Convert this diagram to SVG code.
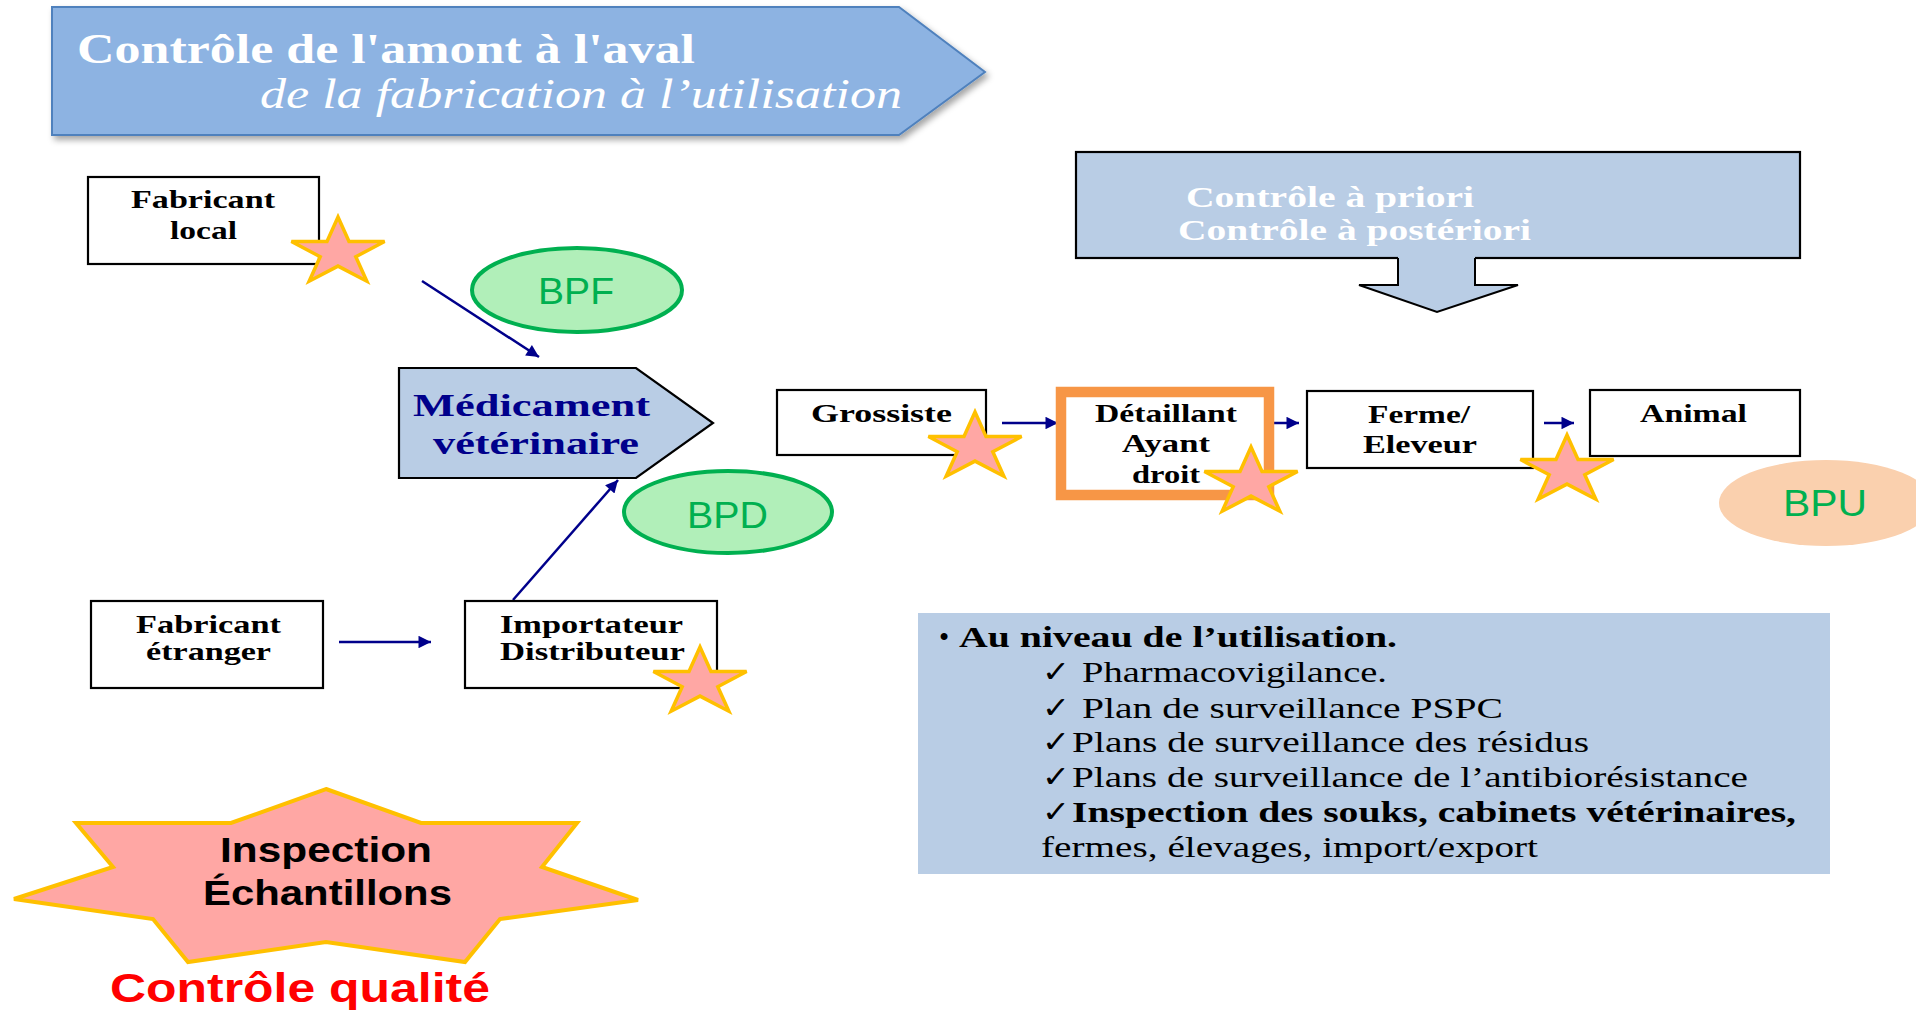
<svg xmlns="http://www.w3.org/2000/svg" width="1916" height="1012" viewBox="0 0 1916 1012">
<style>
.serif{font-family:"Liberation Serif","Times New Roman",serif}
.b{font-weight:bold}
.box{fill:#ffffff;stroke:#000000;stroke-width:2.2}
.lbl{font-family:"Liberation Serif","Times New Roman",serif;font-weight:bold;font-size:26px;fill:#000000}
.bp{font-family:"Liberation Sans",Arial,sans-serif;font-size:36px;fill:#00B050}
.ell{fill:#B1EFB9;stroke:#00B050;stroke-width:4}
.star{fill:#FFA7A4;stroke:#FFC000;stroke-width:3.5}
.conn{stroke:#00008B;stroke-width:2.5;fill:none;marker-end:url(#ah)}
.list{font-family:"Liberation Serif","Times New Roman",serif;font-size:29px;fill:#000000}
.chk{font-family:"DejaVu Sans",sans-serif;font-size:30px;fill:#000000}
.white{fill:#ffffff}
.sans{font-family:"Liberation Sans",Arial,sans-serif;font-weight:bold}
</style>
<defs>
<marker id="ah" viewBox="0 0 10 10" refX="10" refY="5" markerWidth="6.5" markerHeight="5" orient="auto" markerUnits="strokeWidth">
<path d="M0,0 L10,5 L0,10 z" fill="#00008B"/>
</marker>
<path id="star5" d="M0,-35.5 L11,-11 L46.6,-11 L17.8,4.2 L28.8,28.7 L0,13.6 L-28.8,28.7 L-17.8,4.2 L-46.6,-11 L-11,-11 Z"/>
<filter id="sh" x="-5%" y="-10%" width="115%" height="130%">
<feDropShadow dx="3" dy="4" stdDeviation="3" flood-color="#000000" flood-opacity="0.35"/>
</filter>
</defs>
<rect x="0" y="0" width="1916" height="1012" fill="#ffffff"/>

<g id="banner">
<path d="M52,7 L899,7 L985,72 L899,135 L52,135 Z" fill="#8DB3E2" stroke="#4F81BD" stroke-width="2" filter="url(#sh)"/>
<text class="serif b white" x="77" y="63" font-size="42" textLength="618" lengthAdjust="spacingAndGlyphs">Contrôle de l'amont à l'aval</text>
<text class="serif white" x="260" y="108" font-size="42" font-style="italic" textLength="642" lengthAdjust="spacingAndGlyphs">de la fabrication à l’utilisation</text>
</g>

<g id="connectors">
<line class="conn" x1="422" y1="281" x2="539" y2="357"/>
<line class="conn" x1="513" y1="600" x2="618" y2="480"/>
<line class="conn" x1="339" y1="642" x2="431" y2="642"/>
<line class="conn" x1="1002" y1="423" x2="1058" y2="423"/>
<line class="conn" x1="1270" y1="423" x2="1299" y2="423"/>
<line class="conn" x1="1544" y1="423" x2="1574" y2="423"/>
</g>

<g id="fabricant-local">
<rect class="box" x="88" y="177" width="231" height="87"/>
<text class="lbl" x="131" y="208" textLength="144" lengthAdjust="spacingAndGlyphs">Fabricant</text>
<text class="lbl" x="170" y="239" textLength="67" lengthAdjust="spacingAndGlyphs">local</text>
<use href="#star5" class="star" x="338" y="252.5"/>
</g>

<g id="bpf">
<ellipse class="ell" cx="577" cy="290" rx="105" ry="42"/>
<text class="bp" x="538" y="304" textLength="76" lengthAdjust="spacingAndGlyphs">BPF</text>
</g>

<g id="medicament">
<path d="M399,368 L636,368 L713,423 L636,478 L399,478 Z" fill="#B9CDE5" stroke="#000000" stroke-width="2.2"/>
<text class="serif b" x="413" y="416" font-size="31" fill="#00008B" textLength="237" lengthAdjust="spacingAndGlyphs">Médicament</text>
<text class="serif b" x="433" y="454" font-size="31" fill="#00008B" textLength="206" lengthAdjust="spacingAndGlyphs">vétérinaire</text>
</g>

<g id="bpd">
<ellipse class="ell" cx="728" cy="512" rx="104" ry="41"/>
<text class="bp" x="687" y="528" textLength="81" lengthAdjust="spacingAndGlyphs">BPD</text>
</g>

<g id="fabricant-etranger">
<rect class="box" x="91" y="601" width="232" height="87"/>
<text class="lbl" x="136" y="633" textLength="145" lengthAdjust="spacingAndGlyphs">Fabricant</text>
<text class="lbl" x="146" y="660" textLength="125" lengthAdjust="spacingAndGlyphs">étranger</text>
</g>

<g id="importateur">
<rect class="box" x="465" y="601" width="252" height="87"/>
<text class="lbl" x="500" y="633" textLength="183" lengthAdjust="spacingAndGlyphs">Importateur</text>
<text class="lbl" x="500" y="660" textLength="185" lengthAdjust="spacingAndGlyphs">Distributeur</text>
<use href="#star5" class="star" x="700" y="682.5"/>
</g>

<g id="grossiste">
<rect class="box" x="777" y="390" width="209" height="65"/>
<text class="lbl" x="811" y="422" textLength="141" lengthAdjust="spacingAndGlyphs">Grossiste</text>
<use href="#star5" class="star" x="975" y="447.5"/>
</g>

<g id="detaillant">
<rect x="1061" y="392" width="208" height="103" fill="#ffffff" stroke="#F79646" stroke-width="10.5"/>
<text class="lbl" x="1095" y="422" textLength="142" lengthAdjust="spacingAndGlyphs">Détaillant</text>
<text class="lbl" x="1122" y="452" textLength="88" lengthAdjust="spacingAndGlyphs">Ayant</text>
<text class="lbl" x="1132" y="483" textLength="68" lengthAdjust="spacingAndGlyphs">droit</text>
<use href="#star5" class="star" x="1251" y="482.5"/>
</g>

<g id="ferme">
<rect class="box" x="1307" y="391" width="226" height="77"/>
<text class="lbl" x="1368" y="423" textLength="102" lengthAdjust="spacingAndGlyphs">Ferme/</text>
<text class="lbl" x="1363" y="453" textLength="114" lengthAdjust="spacingAndGlyphs">Eleveur</text>
</g>

<g id="animal">
<rect class="box" x="1590" y="390" width="210" height="66"/>
<text class="lbl" x="1640" y="422" textLength="107" lengthAdjust="spacingAndGlyphs">Animal</text>
</g>

<g id="ferme-star">
<use href="#star5" class="star" x="1567" y="470.5"/>
</g>

<g id="bpu">
<ellipse cx="1826" cy="503" rx="107" ry="43" fill="#FAD0AE"/>
<text class="bp" x="1783" y="516" textLength="84" lengthAdjust="spacingAndGlyphs">BPU</text>
</g>

<g id="controle-priori">
<rect x="1076" y="152" width="724" height="106" fill="#B9CDE5" stroke="#000000" stroke-width="2.2"/>
<path d="M1398,256 L1398,285 L1359,285 L1437,312 L1518,285 L1475,285 L1475,256 Z" fill="#B9CDE5"/>
<path d="M1398,258 L1398,285 L1359,285 L1437,312 L1518,285 L1475,285 L1475,258" fill="none" stroke="#000000" stroke-width="2"/>
<text class="serif b white" x="1186" y="207" font-size="30" textLength="288" lengthAdjust="spacingAndGlyphs">Contrôle à priori</text>
<text class="serif b white" x="1178" y="240" font-size="30" textLength="353" lengthAdjust="spacingAndGlyphs">Contrôle à postériori</text>
</g>

<g id="utilisation">
<rect x="918" y="613" width="912" height="261" fill="#B9CDE5"/>
<text class="list" x="939" y="647">•</text>
<text class="list b" x="959" y="647" textLength="438" lengthAdjust="spacingAndGlyphs">Au niveau de l’utilisation.</text>
<text class="chk" x="1042" y="682" textLength="28" lengthAdjust="spacingAndGlyphs">✓</text>
<text class="list" x="1082" y="682" textLength="305" lengthAdjust="spacingAndGlyphs">Pharmacovigilance.</text>
<text class="chk" x="1042" y="718" textLength="28" lengthAdjust="spacingAndGlyphs">✓</text>
<text class="list" x="1082" y="718" textLength="421" lengthAdjust="spacingAndGlyphs">Plan de surveillance PSPC</text>
<text class="chk" x="1042" y="752" textLength="28" lengthAdjust="spacingAndGlyphs">✓</text>
<text class="list" x="1072" y="752" textLength="517" lengthAdjust="spacingAndGlyphs">Plans de surveillance des résidus</text>
<text class="chk" x="1042" y="787" textLength="28" lengthAdjust="spacingAndGlyphs">✓</text>
<text class="list" x="1072" y="787" textLength="676" lengthAdjust="spacingAndGlyphs">Plans de surveillance de l’antibiorésistance</text>
<text class="chk" x="1042" y="822" textLength="28" lengthAdjust="spacingAndGlyphs">✓</text>
<text class="list b" x="1072" y="822" textLength="724" lengthAdjust="spacingAndGlyphs">Inspection des souks, cabinets vétérinaires,</text>
<text class="list" x="1041" y="857" textLength="497" lengthAdjust="spacingAndGlyphs">fermes, élevages, import/export</text>
</g>

<g id="inspection">
<path d="M326,789 L421,823 L577,823 L542,867 L638,900 L500,919 L465,962 L326,942 L188,962 L153,919 L14,899 L113,867 L76,823 L231,823 Z" fill="#FFA7A4" stroke="#FFC000" stroke-width="4" stroke-linejoin="miter"/>
<text class="sans" x="220" y="862" font-size="35" fill="#000000" textLength="212" lengthAdjust="spacingAndGlyphs">Inspection</text>
<text class="sans" x="203" y="905" font-size="35" fill="#000000" textLength="249" lengthAdjust="spacingAndGlyphs">Échantillons</text>
</g>

<g id="controle-qualite">
<text class="sans" x="110" y="1002" font-size="40" fill="#FF0000" textLength="380" lengthAdjust="spacingAndGlyphs">Contrôle qualité</text>
</g>
</svg>
